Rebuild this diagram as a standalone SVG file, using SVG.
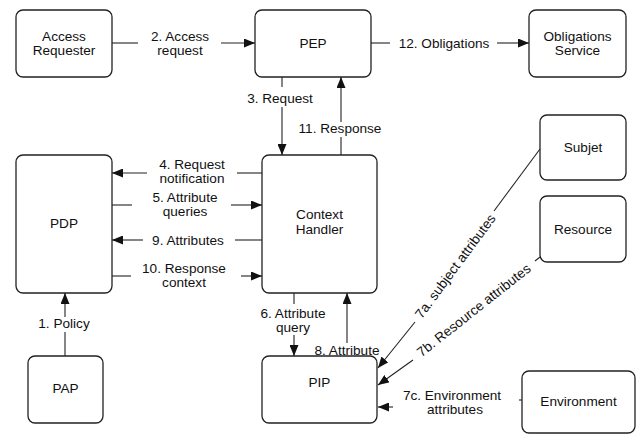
<svg xmlns="http://www.w3.org/2000/svg" width="637" height="434" viewBox="0 0 637 434">
<style>
.box{fill:#fff;stroke:#222;stroke-width:1.3}
text{font-family:"Liberation Sans",Arial,sans-serif;font-size:13.6px;fill:#111;text-anchor:middle}
.c line{stroke:#222;stroke-width:1.1}
.a{marker-end:url(#ah)}
</style>
<defs>
<marker id="ah" markerUnits="userSpaceOnUse" markerWidth="11" markerHeight="9" refX="11" refY="4.5" orient="auto"><path d="M0,0 L11,4.5 L0,9 z" fill="#111"/></marker>
</defs>
<rect width="637" height="434" fill="#fff"/>
<g id="access-requester"><rect class="box" x="16" y="10" width="96" height="67" rx="7"/><text x="64" y="40.5">Access</text><text x="64" y="54.5">Requester</text></g>
<g id="pep"><rect class="box" x="255" y="10" width="116" height="67" rx="7"/><text x="313" y="48">PEP</text></g>
<g id="obligations-service"><rect class="box" x="529" y="10" width="97" height="67" rx="7"/><text x="577.5" y="40.5">Obligations</text><text x="577.5" y="54.5">Service</text></g>
<g id="subjet"><rect class="box" x="540" y="115" width="86" height="65" rx="7"/><text x="583" y="152">Subjet</text></g>
<g id="pdp"><rect class="box" x="16" y="155" width="96" height="138" rx="7"/><text x="64" y="228">PDP</text></g>
<g id="context-handler"><rect class="box" x="262" y="155" width="115" height="138" rx="7"/><text x="319.5" y="219">Context</text><text x="319.5" y="234">Handler</text></g>
<g id="resource"><rect class="box" x="540" y="196" width="86" height="66" rx="7"/><text x="583" y="234">Resource</text></g>
<g id="pap"><rect class="box" x="28" y="356" width="75" height="67" rx="7"/><text x="65.5" y="393">PAP</text></g>
<g id="pip"><rect class="box" x="262" y="356" width="115" height="67" rx="7"/><text x="319.5" y="387">PIP</text></g>
<g id="environment"><rect class="box" x="522" y="371" width="113" height="62" rx="7"/><text x="578.5" y="406">Environment</text></g>
<g id="connectors" class="c">
<line x1="112" y1="43" x2="138" y2="43"/><line class="a" x1="221" y1="43" x2="255" y2="43"/>
<text x="180" y="40.5">2. Access</text><text x="180" y="54.5">request</text>
<line x1="371" y1="43" x2="390" y2="43"/><line class="a" x1="497" y1="43" x2="529" y2="43"/>
<text x="444" y="48">12. Obligations</text>
<line x1="282" y1="77" x2="282" y2="87"/><line class="a" x1="282" y1="107" x2="282" y2="155"/>
<text x="280" y="103">3. Request</text>
<line x1="341" y1="155" x2="341" y2="137"/><line class="a" x1="341" y1="122" x2="341" y2="77"/>
<text x="340" y="133">11. Response</text>
<line x1="262" y1="173" x2="237" y2="173"/><line class="a" x1="147" y1="173" x2="112" y2="173"/>
<text x="192" y="168.5">4. Request</text><text x="192" y="183">notification</text>
<line x1="112" y1="205" x2="132" y2="205"/><line class="a" x1="231" y1="205" x2="262" y2="205"/>
<text x="185" y="201.5">5. Attribute</text><text x="185" y="215.5">queries</text>
<line x1="262" y1="240" x2="235" y2="240"/><line class="a" x1="143" y1="240" x2="112" y2="240"/>
<text x="188" y="245">9. Attributes</text>
<line x1="112" y1="276" x2="131" y2="276"/><line class="a" x1="241" y1="276" x2="262" y2="276"/>
<text x="184" y="272.5">10. Response</text><text x="184" y="287">context</text>
<line x1="65" y1="356" x2="65" y2="332"/><line class="a" x1="65" y1="317" x2="65" y2="293"/>
<text x="64" y="328">1. Policy</text>
<line x1="294" y1="293" x2="294" y2="304"/><line class="a" x1="294" y1="335" x2="294" y2="356"/>
<text x="293" y="317.5">6. Attribute</text><text x="293" y="331.5">query</text>
<line class="a" x1="347" y1="343" x2="347" y2="293"/>
<text x="347" y="355">8. Attribute</text>
<line x1="540" y1="149" x2="494" y2="211"/><line class="a" x1="415" y1="322" x2="378" y2="368"/>
<text transform="translate(455,266) rotate(-53.5)" y="5">7a. subject attributes</text>
<line x1="540" y1="257" x2="535" y2="261"/><line class="a" x1="413" y1="360" x2="378" y2="385"/>
<text transform="translate(473.5,310) rotate(-38.3)" y="5">7b. Resource attributes</text>
<line x1="519" y1="400" x2="522" y2="400"/><line class="a" x1="393" y1="407" x2="378" y2="407"/>
<text x="452" y="399.5">7c. Environment</text><text x="455" y="413.5">attributes</text>
</g>
</svg>
